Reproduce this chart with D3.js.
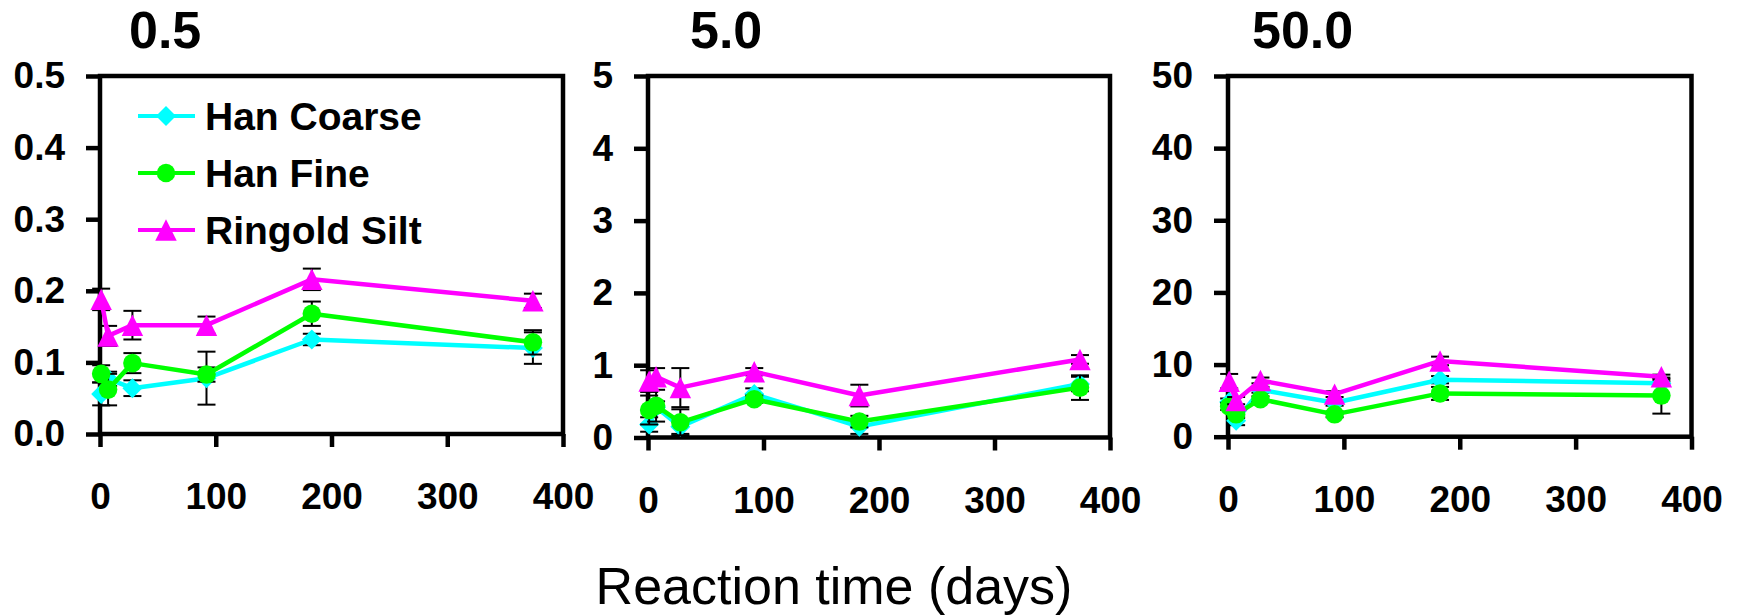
<!DOCTYPE html>
<html>
<head>
<meta charset="utf-8">
<script src="https://cdn.jsdelivr.net/npm/d3@7"></script>
<style>
  body { margin: 0; background: #fff; }
  svg { display: block; }
</style>
</head>
<body>
<svg id="chart" width="1739" height="615"></svg>
<script>
// ---- data ----
const days = [1, 7, 28, 92, 183, 374];
const seriesNames = ["Han Coarse", "Han Fine", "Ringold Silt"];
const panelTitles = ["0.5", "5.0", "50.0"];
const xTickValues = [0, 100, 200, 300, 400];
const yTicks05 = [0, 0.1, 0.2, 0.3, 0.4, 0.5];
const yTicks5 = [0, 1, 2, 3, 4, 5];
const yTicks50 = [0, 10, 20, 30, 40, 50];
const yTickFormats = [".1f", "d", "d"];
const xAxisTitle = "Reaction time (days)";

// 0.5 panel
const coarse05 = [0.056, 0.077, 0.064, 0.078, 0.132, 0.120];
const fine05   = [0.084, 0.062, 0.099, 0.083, 0.168, 0.128];
const silt05   = [0.188, 0.137, 0.152, 0.152, 0.216, 0.186];
const coarse05Err = [0.016, 0.010, 0.011, 0.037, 0.008, 0.022];
const fine05Err   = [0.012, 0.022, 0.014, 0.010, 0.017, 0.017];
const silt05Err   = [0.015, 0.014, 0.020, 0.012, 0.015, 0.010];

// 5.0 panel
const coarse5 = [0.18, 0.42, 0.15, 0.60, 0.15, 0.74];
const fine5   = [0.38, 0.44, 0.21, 0.53, 0.22, 0.69];
const silt5   = [0.78, 0.84, 0.69, 0.91, 0.58, 1.08];
const coarse5Err = [0.10, 0.08, 0.10, 0.08, 0.10, 0.10];
const fine5Err   = [0.20, 0.22, 0.18, 0.05, 0.08, 0.17];
const silt5Err   = [0.15, 0.12, 0.27, 0.05, 0.15, 0.06];

// 50.0 panel
const coarse50 = [4.8, 2.2, 6.5, 4.7, 7.9, 7.4];
const fine50   = [4.2, 3.1, 5.2, 3.1, 6.0, 5.7];
const silt50   = [7.7, 5.0, 7.8, 5.9, 10.5, 8.3];
const coarse50Err = [0.5, 0.6, 0.4, 0.4, 0.5, 0.3];
const fine50Err   = [0.5, 0.5, 0.4, 0.4, 0.9, 2.5];
const silt50Err   = [1.0, 0.5, 0.4, 0.4, 0.6, 0.3];

// ---- layout & style ----
const FONT = "'Liberation Sans', Arial, Helvetica, sans-serif";
const colors = ["#00FFFF", "#00FF00", "#FF00FF"];
const boxes = [
  { left: 100,  right: 563,    top: 76, bottom: 434,   titleX: 129 },
  { left: 648,  right: 1110,   top: 76, bottom: 437.5, titleX: 690 },
  { left: 1228, right: 1691.5, top: 76, bottom: 436.7, titleX: 1252 }
];

// marker shapes: square-rotated diamond, circle, box-centred triangle
const diamond = {
  draw(ctx, size) {
    const h = Math.sqrt(size / 2);
    ctx.moveTo(0, -h); ctx.lineTo(h, 0); ctx.lineTo(0, h); ctx.lineTo(-h, 0); ctx.closePath();
  }
};
const triangle = {
  draw(ctx, size) {
    const s = Math.sqrt(size * 2) / 2;
    ctx.moveTo(0, -s); ctx.lineTo(s, s); ctx.lineTo(-s, s); ctx.closePath();
  }
};
const markerTypes = [diamond, d3.symbolCircle, triangle];
const markerSizes = [200, 270, 230];

const panels = [
  { title: panelTitles[0], yTicks: yTicks05, fmt: yTickFormats[0],
    values: [coarse05, fine05, silt05], errors: [coarse05Err, fine05Err, silt05Err] },
  { title: panelTitles[1], yTicks: yTicks5, fmt: yTickFormats[1],
    values: [coarse5, fine5, silt5], errors: [coarse5Err, fine5Err, silt5Err] },
  { title: panelTitles[2], yTicks: yTicks50, fmt: yTickFormats[2],
    values: [coarse50, fine50, silt50], errors: [coarse50Err, fine50Err, silt50Err] }
];

const svg = d3.select("#chart");
svg.append("rect").attr("width", 1739).attr("height", 615).attr("fill", "#fff");

panels.forEach((p, pi) => {
  const box = boxes[pi];
  const x = d3.scaleLinear().domain([0, 400]).range([box.left, box.right]);
  const y = d3.scaleLinear().domain([0, p.yTicks[p.yTicks.length - 1]]).range([box.bottom, box.top]);
  const g = svg.append("g");

  // panel title
  g.append("text")
    .attr("x", box.titleX).attr("y", 48)
    .attr("font-family", FONT).attr("font-size", 52).attr("font-weight", "bold")
    .text(p.title);

  // plot frame
  g.append("rect")
    .attr("x", box.left).attr("y", box.top)
    .attr("width", box.right - box.left).attr("height", box.bottom - box.top)
    .attr("fill", "none").attr("stroke", "#000").attr("stroke-width", 4.5);

  // y axis
  const ya = g.append("g")
    .attr("transform", `translate(${box.left},0)`)
    .call(d3.axisLeft(y).tickValues(p.yTicks).tickFormat(d3.format(p.fmt)).tickSize(14).tickPadding(21));
  ya.select(".domain").remove();
  ya.selectAll(".tick line").attr("stroke", "#000").attr("stroke-width", 4.5);
  ya.selectAll(".tick text")
    .attr("font-family", FONT).attr("font-size", 37).attr("font-weight", "bold").attr("fill", "#000");

  // x axis
  const xa = g.append("g")
    .attr("transform", `translate(0,${box.bottom})`)
    .call(d3.axisBottom(x).tickValues(xTickValues).tickFormat(d3.format("d")).tickSize(13).tickPadding(36));
  xa.select(".domain").remove();
  xa.selectAll(".tick line").attr("stroke", "#000").attr("stroke-width", 4.5);
  xa.selectAll(".tick text")
    .attr("font-family", FONT).attr("font-size", 37).attr("font-weight", "bold").attr("fill", "#000");

  // series
  p.values.forEach((vals, si) => {
    const pts = days.map((d, i) => ({ day: d, v: vals[i], e: p.errors[si][i] }));
    const sg = g.append("g");

    // error bars
    const eb = sg.append("g").attr("stroke", "#000").attr("stroke-width", 2);
    pts.forEach(pt => {
      const cx = x(pt.day), y1 = y(pt.v - pt.e), y2 = y(pt.v + pt.e);
      eb.append("line").attr("x1", cx).attr("x2", cx).attr("y1", y1).attr("y2", y2);
      eb.append("line").attr("x1", cx - 9).attr("x2", cx + 9).attr("y1", y1).attr("y2", y1);
      eb.append("line").attr("x1", cx - 9).attr("x2", cx + 9).attr("y1", y2).attr("y2", y2);
    });

    // connecting line
    sg.append("path")
      .datum(pts)
      .attr("fill", "none").attr("stroke", colors[si]).attr("stroke-width", 4.5)
      .attr("stroke-linejoin", "round")
      .attr("d", d3.line().x(d => x(d.day)).y(d => y(d.v)));

    // markers
    sg.selectAll("path.mk").data(pts).enter().append("path")
      .attr("class", "mk")
      .attr("transform", d => `translate(${x(d.day)},${y(d.v)})`)
      .attr("fill", colors[si])
      .attr("d", d3.symbol().type(markerTypes[si]).size(markerSizes[si]));
  });

  // legend (first panel only)
  if (pi === 0) {
    const rowsY = [116, 173, 230];
    const lg = g.append("g");
    seriesNames.forEach((name, si) => {
      const ry = rowsY[si];
      lg.append("line")
        .attr("x1", 138).attr("x2", 195).attr("y1", ry).attr("y2", ry)
        .attr("stroke", colors[si]).attr("stroke-width", 4);
      lg.append("path")
        .attr("transform", `translate(166,${ry})`)
        .attr("fill", colors[si])
        .attr("d", d3.symbol().type(markerTypes[si]).size(markerSizes[si]));
      lg.append("text")
        .attr("x", 205).attr("y", ry + 14)
        .attr("font-family", FONT).attr("font-size", 39).attr("font-weight", "bold")
        .text(name);
    });
  }
});

// shared x axis title
svg.append("text")
  .attr("x", 834).attr("y", 604)
  .attr("text-anchor", "middle")
  .attr("font-family", FONT).attr("font-size", 52)
  .text(xAxisTitle);
</script>
</body>
</html>
